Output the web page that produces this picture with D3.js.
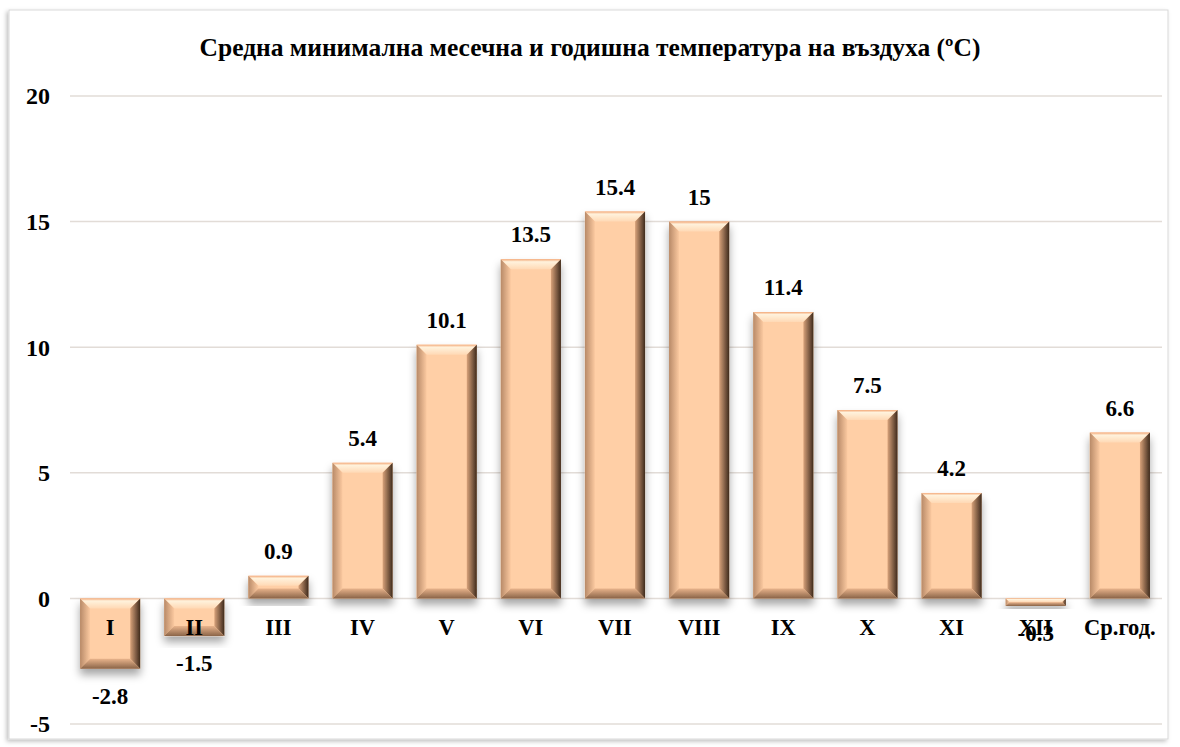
<!DOCTYPE html>
<html>
<head>
<meta charset="utf-8">
<script src="https://cdn.jsdelivr.net/npm/d3@7"></script>
<style>
  body { margin: 0; background: #fff; }
  svg { display: block; }
  text { font-family: "Liberation Serif", "Times New Roman", serif; font-weight: bold; fill: #000; }
</style>
</head>
<body>
<svg id="chart" width="1180" height="747"></svg>
<script>
var categories = ["I", "II", "III", "IV", "V", "VI", "VII", "VIII", "IX", "X", "XI", "XII", "Ср.год."];
var values = [-2.8, -1.5, 0.9, 5.4, 10.1, 13.5, 15.4, 15, 11.4, 7.5, 4.2, -0.3, 6.6];
var yTicks = [-5, 0, 5, 10, 15, 20];
var title = "Средна минимална месечна и годишна температура на въздуха (ºC)";

var svg = d3.select("#chart"),
    width = 1180,
    height = 747;

var defs = svg.append("defs");

// frame shadow
var fs = defs.append("filter").attr("id", "frameShadow")
    .attr("x", "-5%").attr("y", "-5%").attr("width", "110%").attr("height", "110%");
fs.append("feDropShadow").attr("dx", -2).attr("dy", 2).attr("stdDeviation", 2)
    .attr("flood-color", "#000").attr("flood-opacity", 0.25);

// bar shadow
var bs = defs.append("filter").attr("id", "barShadow")
    .attr("x", "-30%").attr("y", "-30%").attr("width", "160%").attr("height", "160%");
bs.append("feDropShadow").attr("dx", 0).attr("dy", 6).attr("stdDeviation", 4)
    .attr("flood-color", "#000").attr("flood-opacity", 0.35);

function grad(id, x2, y2, stops) {
  var g = defs.append("linearGradient").attr("id", id)
      .attr("x1", 0).attr("y1", 0).attr("x2", x2).attr("y2", y2);
  stops.forEach(function(s) {
    g.append("stop").attr("offset", s[0]).attr("stop-color", s[1]);
  });
}
grad("gTop", 0, 1, [["0%", "#f3a878"], ["25%", "#fff2dc"], ["100%", "#ffd9b5"]]);
grad("gLeft", 1, 0, [["0%", "#b88a68"], ["100%", "#fbc9a0"]]);
grad("gRight", 1, 0, [["0%", "#d8a27a"], ["100%", "#3e2a1c"]]);
grad("gBottom", 0, 1, [["0%", "#e9b48c"], ["100%", "#8a6448"]]);

// outer frame
svg.append("rect")
    .attr("x", 9).attr("y", 10).attr("width", 1159).attr("height", 729)
    .attr("fill", "#fff").attr("stroke", "#d9d9d9").attr("stroke-width", 1)
    .attr("filter", "url(#frameShadow)");

var x = d3.scaleBand()
    .domain(categories)
    .range([68, 1162])
    .paddingInner(0.285)
    .paddingOuter(0.143);

var y = d3.scaleLinear()
    .domain([-5, 20])
    .range([724, 96]);

// title
svg.append("text")
    .attr("x", 590).attr("y", 56)
    .attr("text-anchor", "middle")
    .attr("font-size", "25.5px")
    .text(title);

// gridlines
svg.append("g").selectAll("line")
  .data(yTicks)
  .enter().append("line")
    .attr("x1", 70).attr("x2", 1162)
    .attr("y1", function(d) { return y(d); })
    .attr("y2", function(d) { return y(d); })
    .attr("stroke", "#e2dcd7")
    .attr("stroke-width", 1.5);

// y labels
svg.append("g").selectAll("text")
  .data(yTicks)
  .enter().append("text")
    .attr("x", 50)
    .attr("y", function(d) { return y(d); })
    .attr("dy", "0.35em")
    .attr("text-anchor", "end")
    .attr("font-size", "24px")
    .text(function(d) { return d; });

// bars
var bw = x.bandwidth();
var bev = 10;
var bars = svg.append("g").selectAll("g")
  .data(values)
  .enter().append("g")
    .attr("filter", "url(#barShadow)");

bars.each(function(v, i) {
  var g = d3.select(this);
  var x0 = x(categories[i]), x1 = x0 + bw;
  var y0 = Math.min(y(v), y(0)), y1 = Math.max(y(v), y(0));
  var h = y1 - y0;
  var b = Math.min(bev, h / 2);
  g.append("rect").attr("x", x0).attr("y", y0).attr("width", bw).attr("height", h)
      .attr("fill", "#ffcfa6");
  var pts = function(a) { return a.map(function(p) { return p.join(","); }).join(" "); };
  g.append("polygon").attr("points", pts([[x0, y0], [x1, y0], [x1 - b, y0 + b], [x0 + b, y0 + b]]))
      .attr("fill", "url(#gTop)");
  g.append("polygon").attr("points", pts([[x0, y0], [x0 + b, y0 + b], [x0 + b, y1 - b], [x0, y1]]))
      .attr("fill", "url(#gLeft)");
  g.append("polygon").attr("points", pts([[x1, y0], [x1, y1], [x1 - b, y1 - b], [x1 - b, y0 + b]]))
      .attr("fill", "url(#gRight)");
  g.append("polygon").attr("points", pts([[x0, y1], [x0 + b, y1 - b], [x1 - b, y1 - b], [x1, y1]]))
      .attr("fill", "url(#gBottom)");
});

// category labels
svg.append("g").selectAll("text")
  .data(categories)
  .enter().append("text")
    .attr("x", function(d) { return x(d) + bw / 2; })
    .attr("y", y(0) + 37)
    .attr("text-anchor", "middle")
    .attr("font-size", "22.5px")
    .text(function(d) { return d; });

// value labels
svg.append("g").selectAll("text")
  .data(values)
  .enter().append("text")
    .attr("x", function(d, i) { return x(categories[i]) + bw / 2; })
    .attr("y", function(d) { return d >= 0 ? y(d) - 17 : y(d) + 35; })
    .attr("text-anchor", "middle")
    .attr("font-size", "23px")
    .text(function(d) { return d; });
</script>
</body>
</html>
